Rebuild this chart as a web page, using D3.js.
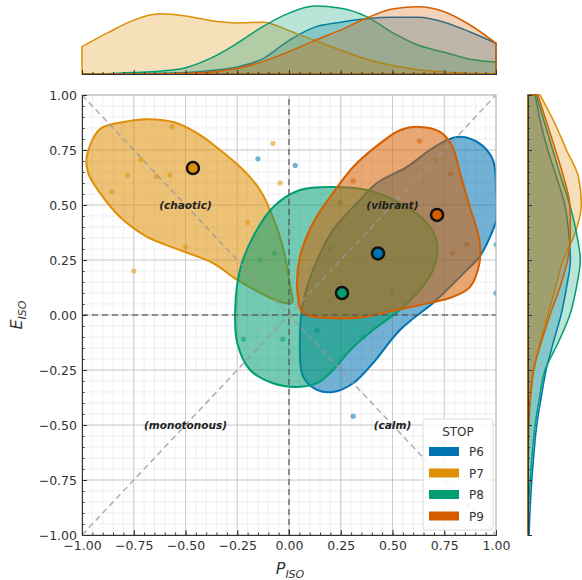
<!DOCTYPE html>
<html>
<head>
<meta charset="utf-8">
<script src="https://cdn.jsdelivr.net/npm/d3@7"></script>
<style>
  body { margin: 0; background: #fff; }
  text { font-family: "DejaVu Sans", sans-serif; }
</style>
</head>
<body>
<div class="chart"></div>
<script>
// stops and colours (seaborn colorblind)
var stops = ["P6", "P7", "P8", "P9"];
var colors = ["#0173B2", "#DE8F05", "#029E73", "#D55E00"];

// kde outline of each stop [P, E]
var contourP6 = [[0.826,0.81],[0.92,0.78],[0.985,0.705],[1.0,0.57],[1.0,0.43],[0.985,0.386],[0.92,0.264],[0.86,0.205],
  [0.763,0.114],[0.696,0.055],[0.536,-0.068],[0.406,-0.218],[0.31,-0.31],[0.213,-0.35],[0.135,-0.34],[0.068,-0.28],
  [0.053,-0.1],[0.068,0.055],[0.116,0.205],[0.213,0.386],[0.33,0.51],[0.425,0.6],[0.57,0.673],[0.68,0.75],[0.763,0.795]];
var contourP7 = [[-0.977,0.72],[-0.913,0.845],[-0.8,0.877],[-0.686,0.89],[-0.56,0.877],[-0.444,0.827],[-0.333,0.75],
  [-0.222,0.66],[-0.14,0.568],[-0.082,0.455],[-0.03,0.31],[0.005,0.136],[0.015,0.055],[-0.043,0.06],[-0.25,0.16],
  [-0.367,0.236],[-0.527,0.295],[-0.686,0.355],[-0.816,0.445],[-0.913,0.555],[-0.97,0.645]];
var contourP8 = [[0.053,0.568],[0.213,0.582],[0.377,0.568],[0.536,0.509],[0.667,0.418],[0.715,0.327],[0.696,0.205],
  [0.633,0.114],[0.536,0.023],[0.406,-0.068],[0.295,-0.16],[0.213,-0.25],[0.135,-0.31],[0.039,-0.327],[-0.077,-0.31],
  [-0.188,-0.25],[-0.25,-0.127],[-0.26,0.023],[-0.237,0.205],[-0.174,0.355],[-0.077,0.49]];
var contourP9 = [[0.633,0.855],[0.73,0.832],[0.79,0.764],[0.826,0.645],[0.874,0.49],[0.92,0.34],[0.92,0.236],[0.874,0.127],
  [0.79,0.082],[0.68,0.055],[0.52,0.023],[0.357,-0.01],[0.2,-0.014],[0.068,0.01],[0.04,0.114],[0.053,0.264],
  [0.116,0.418],[0.213,0.555],[0.31,0.673],[0.44,0.78],[0.536,0.84]];
var contours = [contourP6, contourP7, contourP8, contourP9];

// single responses
var pointsP6 = [[-0.15,0.71],[0.03,0.68],[0.31,-0.46],[1.0,0.1],[0.2,0.3],[0.5,0.1]];
var pointsP7 = [[-0.855,0.56],[-0.78,0.635],[-0.64,0.63],[-0.575,0.636],[-0.565,0.855],[-0.715,0.705],[-0.5,0.31],
  [-0.75,0.2],[-0.077,0.78],[-0.043,0.6],[-0.2,0.42]];
var pointsP8 = [[-0.14,0.25],[-0.07,0.28],[-0.22,-0.11],[-0.03,-0.11],[0.135,-0.07],[0.36,-0.1],[1.0,0.32]];
var pointsP9 = [[0.63,0.79],[0.31,0.61],[0.705,0.705],[0.78,0.64],[0.86,0.32],[0.79,0.28],[0.246,0.51]];
var points = [pointsP6, pointsP7, pointsP8, pointsP9];

// mean of each stop
var centroids = [[0.43,0.28],[-0.464,0.668],[0.256,0.1],[0.715,0.455]];

// marginal densities on a 0.125 grid from -1 to 1
var margGrid = d3.range(-1, 1.0001, 0.125);
var topP6 = [0,0,0.005,0.01,0.02,0.05,0.1,0.22,0.48,0.67,0.74,0.79,0.81,0.81,0.74,0.6,0.44];
var topP7 = [0.39,0.59,0.77,0.86,0.83,0.76,0.73,0.74,0.62,0.48,0.34,0.21,0.12,0.06,0.03,0.01,0];
var topP8 = [0,0.005,0.02,0.04,0.09,0.23,0.44,0.68,0.87,0.97,0.94,0.82,0.59,0.41,0.31,0.21,0.17];
var topP9 = [0,0,0,0,0.01,0.03,0.08,0.18,0.32,0.48,0.63,0.8,0.93,0.96,0.89,0.7,0.44];
var rightP6 = [0.02,0.04,0.07,0.11,0.16,0.24,0.33,0.46,0.6,0.7,0.77,0.74,0.67,0.52,0.36,0.23,0.13];
var rightP7 = [0,0,0,0.01,0.02,0.05,0.11,0.22,0.36,0.5,0.64,0.86,0.97,0.92,0.7,0.48,0.22];
var rightP8 = [0,0.01,0.04,0.08,0.13,0.21,0.31,0.55,0.76,0.88,0.95,0.88,0.76,0.6,0.45,0.3,0.15];
var rightP9 = [0,0,0,0,0.01,0.04,0.1,0.24,0.4,0.58,0.72,0.77,0.76,0.65,0.5,0.34,0.18];
var topDens = [topP6, topP7, topP8, topP9];
var rightDens = [rightP6, rightP7, rightP8, rightP9];

// quadrant names
var quadLabels = [["(chaotic)",-0.5,0.5],["(vibrant)",0.5,0.5],["(monotonous)",-0.5,-0.5],["(calm)",0.5,-0.5]];
var majorTicks = [-1,-0.75,-0.5,-0.25,0,0.25,0.5,0.75,1];

var W = 582, H = 580;
var svg = d3.select(".chart").append("svg").attr("width", W).attr("height", H);

var x = d3.scaleLinear().domain([-1, 1]).range([82, 496]);
var y = d3.scaleLinear().domain([-1, 1]).range([535, 95]);
var minor = d3.range(-1, 1.0001, 0.05);

svg.append("clipPath").attr("id", "clip").append("rect")
  .attr("x", 82).attr("y", 95).attr("width", 414).attr("height", 440);

// grid
var grid = svg.append("g");
grid.selectAll(".mx").data(minor).enter().append("line")
  .attr("x1", function(d){ return x(d); }).attr("x2", function(d){ return x(d); })
  .attr("y1", 95).attr("y2", 535).attr("stroke", "#e6e6e6").attr("stroke-width", 0.6);
grid.selectAll(".my").data(minor).enter().append("line")
  .attr("y1", function(d){ return y(d); }).attr("y2", function(d){ return y(d); })
  .attr("x1", 82).attr("x2", 496).attr("stroke", "#e6e6e6").attr("stroke-width", 0.6);
grid.selectAll(".Mx").data(majorTicks).enter().append("line")
  .attr("x1", function(d){ return x(d); }).attr("x2", function(d){ return x(d); })
  .attr("y1", 95).attr("y2", 535).attr("stroke", "#c8c8c8").attr("stroke-width", 0.9);
grid.selectAll(".My").data(majorTicks).enter().append("line")
  .attr("y1", function(d){ return y(d); }).attr("y2", function(d){ return y(d); })
  .attr("x1", 82).attr("x2", 496).attr("stroke", "#c8c8c8").attr("stroke-width", 0.9);

var plot = svg.append("g").attr("clip-path", "url(#clip)");

// small points
points.forEach(function(pts, i) {
  plot.selectAll(".pt" + i).data(pts).enter().append("circle")
    .attr("cx", function(d){ return x(d[0]); })
    .attr("cy", function(d){ return y(d[1]); })
    .attr("r", 2.6)
    .attr("fill", colors[i]).attr("opacity", 0.55);
});

// kde regions
var outline = d3.line()
  .x(function(d){ return x(d[0]); })
  .y(function(d){ return y(d[1]); })
  .curve(d3.curveCatmullRomClosed.alpha(0.5));

contours.forEach(function(c, i) {
  plot.append("path").attr("d", outline(c))
    .attr("fill", colors[i]).attr("fill-opacity", 0.55)
    .attr("stroke", colors[i]).attr("stroke-width", 2);
});

// reference lines
var refs = [[[-1,1],[1,-1],"#9a9a9a"],[[-1,-1],[1,1],"#9a9a9a"],[[-1,0],[1,0],"#555"],[[0,-1],[0,1],"#555"]];
refs.forEach(function(r) {
  plot.append("line")
    .attr("x1", x(r[0][0])).attr("y1", y(r[0][1]))
    .attr("x2", x(r[1][0])).attr("y2", y(r[1][1]))
    .attr("stroke", r[2]).attr("stroke-width", 1.5)
    .attr("stroke-dasharray", "6,4").attr("opacity", 0.8);
});

svg.selectAll(".quad").data(quadLabels).enter().append("text")
  .attr("x", function(d){ return x(d[1]); })
  .attr("y", function(d){ return y(d[2]); })
  .attr("dy", "0.35em").attr("text-anchor", "middle")
  .attr("font-size", 10.5).attr("font-weight", "bold").attr("font-style", "italic")
  .attr("fill", "#222")
  .text(function(d){ return d[0]; });

// means
svg.selectAll(".cent").data(centroids).enter().append("circle")
  .attr("cx", function(d){ return x(d[0]); })
  .attr("cy", function(d){ return y(d[1]); })
  .attr("r", 6)
  .attr("fill", function(d, i){ return colors[i]; })
  .attr("stroke", "#111").attr("stroke-width", 2.5);

// frame
svg.append("rect").attr("x", 82).attr("y", 95).attr("width", 414).attr("height", 440)
  .attr("fill", "none").attr("stroke", "#bbb").attr("stroke-width", 0.8);

var fmt = function(d){ return d3.format(".2f")(d).replace("-", "\u2212"); };

var yAxis = svg.append("g").attr("transform", "translate(82,0)")
  .call(d3.axisLeft(y).tickValues(majorTicks).tickFormat(fmt).tickSize(-5).tickPadding(5));
svg.append("g").attr("transform", "translate(82,0)")
  .call(d3.axisLeft(y).tickValues(minor).tickFormat("").tickSize(-2.5));
var xAxis = svg.append("g").attr("transform", "translate(0,535)")
  .call(d3.axisBottom(x).tickValues(majorTicks).tickFormat(fmt).tickSize(-5).tickPadding(6));
svg.append("g").attr("transform", "translate(0,535)")
  .call(d3.axisBottom(x).tickValues(minor).tickFormat("").tickSize(-2.5));
svg.selectAll(".domain").attr("stroke", "#333");
svg.selectAll(".tick line").attr("stroke", "#333");
svg.selectAll(".tick text").attr("font-size", 12.5).attr("fill", "#333")
  .attr("font-family", "DejaVu Sans, sans-serif");

// axis titles
var ylab = svg.append("text").attr("transform", "translate(22,315) rotate(-90)")
  .attr("text-anchor", "middle").attr("font-size", 16).attr("font-style", "italic").attr("fill", "#333");
ylab.append("tspan").text("E");
ylab.append("tspan").attr("font-size", 11).attr("dy", 4).text("ISO");
var xlab = svg.append("text").attr("x", 290).attr("y", 574)
  .attr("text-anchor", "middle").attr("font-size", 16).attr("font-style", "italic").attr("fill", "#333");
xlab.append("tspan").text("P");
xlab.append("tspan").attr("font-size", 11).attr("dy", 4).text("ISO");

// top marginal
var ty = d3.scaleLinear().domain([0, 1]).range([74, 4]);
var topArea = d3.area()
  .x(function(d, i){ return x(margGrid[i]); })
  .y0(74).y1(function(d){ return ty(d); })
  .curve(d3.curveMonotoneX);
topDens.forEach(function(dd, i) {
  svg.append("path").attr("d", topArea(dd))
    .attr("fill", colors[i]).attr("fill-opacity", 0.28)
    .attr("stroke", colors[i]).attr("stroke-width", 1.5);
});
svg.append("g").attr("transform", "translate(0,74)")
  .call(d3.axisBottom(x).tickValues(majorTicks).tickFormat("").tickSize(-4));
svg.append("g").attr("transform", "translate(0,74)")
  .call(d3.axisBottom(x).tickValues(minor).tickFormat("").tickSize(-2));

// right marginal
var rx = d3.scaleLinear().domain([0, 1]).range([528, 583]);
var rightArea = d3.area()
  .y(function(d, i){ return y(margGrid[i]); })
  .x0(528).x1(function(d){ return rx(d); })
  .curve(d3.curveMonotoneY);
rightDens.forEach(function(dd, i) {
  svg.append("path").attr("d", rightArea(dd))
    .attr("fill", colors[i]).attr("fill-opacity", 0.28)
    .attr("stroke", colors[i]).attr("stroke-width", 1.5);
});
svg.append("g").attr("transform", "translate(528,0)")
  .call(d3.axisLeft(y).tickValues(majorTicks).tickFormat("").tickSize(-4));
svg.append("g").attr("transform", "translate(528,0)")
  .call(d3.axisLeft(y).tickValues(minor).tickFormat("").tickSize(-2));
svg.selectAll(".domain").attr("stroke", "#333");
svg.selectAll(".tick line").attr("stroke", "#333");

// legend
var lg = svg.append("g").attr("transform", "translate(423,419)");
lg.append("rect").attr("width", 70).attr("height", 111).attr("rx", 3)
  .attr("fill", "#fff").attr("fill-opacity", 0.85).attr("stroke", "#ddd");
lg.append("text").attr("x", 35).attr("y", 17).attr("text-anchor", "middle")
  .attr("font-size", 12).attr("fill", "#333").text("STOP");
var items = lg.selectAll(".item").data(stops).enter().append("g")
  .attr("transform", function(d, i){ return "translate(6," + (28 + i * 21.5) + ")"; });
items.append("rect").attr("width", 30).attr("height", 9)
  .attr("fill", function(d, i){ return colors[i]; });
items.append("text").attr("x", 40).attr("y", 5).attr("dy", "0.35em")
  .attr("font-size", 12).attr("fill", "#333").text(function(d){ return d; });
</script>
</body>
</html>
